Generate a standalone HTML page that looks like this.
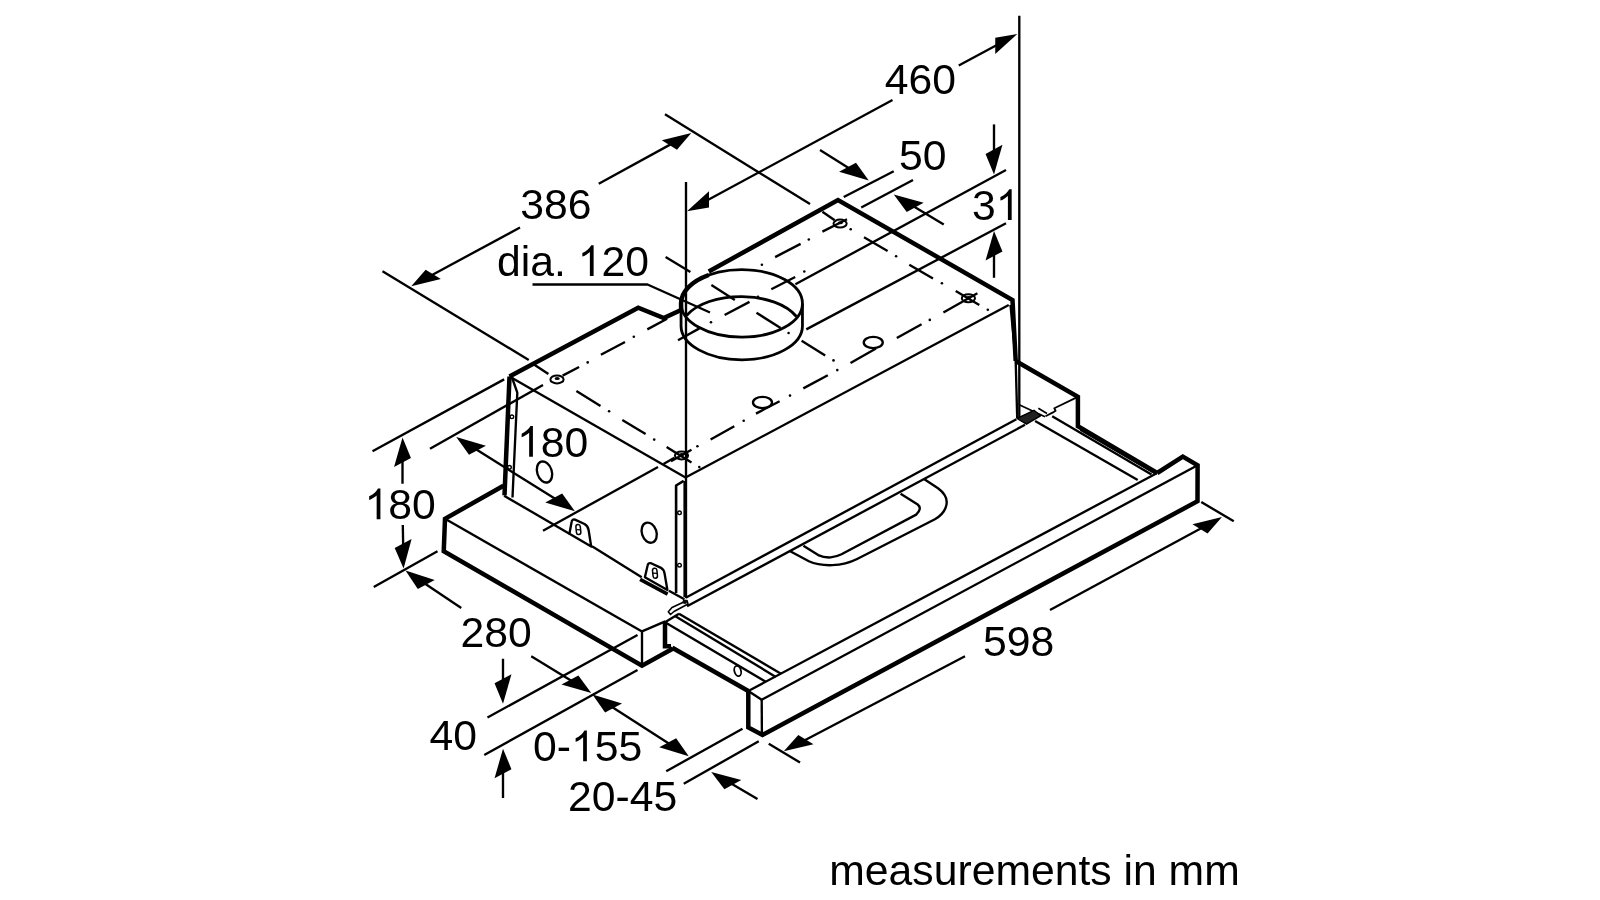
<!DOCTYPE html>
<html><head><meta charset="utf-8"><title>dimension drawing</title>
<style>html,body{margin:0;padding:0;background:#fff;}svg{display:block}
text{font-family:"Liberation Sans",sans-serif;font-size:42.7px;fill:#000;stroke:none}</style></head>
<body><svg width="1600" height="900" viewBox="0 0 1600 900" fill="none" stroke="#000" stroke-linecap="butt" stroke-linejoin="round">
<defs><filter id="soft" x="0" y="0" width="1600" height="900" filterUnits="userSpaceOnUse"><feGaussianBlur stdDeviation="0.45"/></filter></defs>
<rect width="1600" height="900" fill="#fff" stroke="none"/>
<g filter="url(#soft)">
<path d="M1019.30 15.75 L1019.30 418.00" stroke-width="2.35" />
<path d="M686.00 182.00 L686.00 598.00" stroke-width="2.35" />
<path d="M892.50 100.00 L704.59 201.78" stroke-width="2.35" />
<path d="M687.00 211.30 L708.98 207.59 L708.98 191.19 Z" fill="#000" stroke="none"/>
<path d="M958.75 65.50 L999.69 43.48" stroke-width="2.35" />
<path d="M1017.30 34.00 L995.28 54.04 L995.28 37.64 Z" fill="#000" stroke="none"/>
<path d="M665.00 114.30 L810.00 204.00" stroke-width="2.35" />
<path d="M382.50 271.25 L528.75 360.00" stroke-width="2.35" />
<path d="M534.40 364.70 L548.40 374.00" stroke-width="2.35" />
<path d="M598.75 183.75 L673.76 142.62" stroke-width="2.35" />
<path d="M691.30 133.00 L676.96 149.68 L661.80 140.36 Z" fill="#000" stroke="none"/>
<path d="M520.00 227.50 L428.85 276.74" stroke-width="2.35" />
<path d="M411.25 286.25 L440.83 279.03 L425.66 269.70 Z" fill="#000" stroke="none"/>
<path d="M843.75 197.00 L893.75 171.25" stroke-width="2.35" />
<path d="M861.25 207.50 L913.00 180.00" stroke-width="2.35" />
<path d="M820.00 150.00 L851.79 169.89" stroke-width="2.35" />
<path d="M868.75 180.50 L856.00 162.68 L839.11 171.80 Z" fill="#000" stroke="none"/>
<path d="M943.75 224.50 L910.90 204.79" stroke-width="2.35" />
<path d="M893.75 194.50 L923.64 202.80 L906.74 211.92 Z" fill="#000" stroke="none"/>
<path d="M795.40 284.30 L1006.00 170.00" stroke-width="2.35" />
<path d="M806.30 329.40 L1006.00 223.30" stroke-width="2.35" />
<path d="M994.00 124.40 L994.00 154.40" stroke-width="2.35" />
<path d="M994.00 174.40 L1002.45 144.84 L985.55 153.96 Z" fill="#000" stroke="none"/>
<path d="M994.00 277.80 L994.00 251.00" stroke-width="2.35" />
<path d="M994.00 231.00 L1002.45 251.44 L985.55 260.56 Z" fill="#000" stroke="none"/>
<path d="M532.50 284.50 L647.50 284.50 L710.00 312.50" stroke-width="2.35" />
<path d="M372.50 451.25 L504.10 379.40" stroke-width="2.35" />
<path d="M373.75 587.00 L437.50 551.25" stroke-width="2.35" />
<path d="M402.50 483.75 L402.50 457.50" stroke-width="2.35" />
<path d="M402.50 437.50 L410.95 457.94 L394.05 467.06 Z" fill="#000" stroke="none"/>
<path d="M402.80 525.00 L403.23 548.50" stroke-width="2.35" />
<path d="M403.60 568.50 L411.59 538.94 L394.69 548.06 Z" fill="#000" stroke="none"/>
<path d="M430.00 448.75 L543.00 384.90" stroke-width="2.35" />
<path d="M543.00 530.70 L658.00 467.00" stroke-width="2.35" />
<path d="M663.50 463.90 L674.40 457.70" stroke-width="2.35" />
<path d="M473.21 447.60 L557.94 500.60" stroke-width="2.35" />
<path d="M456.25 437.00 L485.89 445.70 L469.00 454.82 Z" fill="#000" stroke="none"/>
<path d="M574.90 511.20 L562.15 493.38 L545.26 502.50 Z" fill="#000" stroke="none"/>
<path d="M461.25 608.00 L422.11 581.74" stroke-width="2.35" />
<path d="M405.50 570.60 L434.71 579.97 L417.81 589.09 Z" fill="#000" stroke="none"/>
<path d="M531.25 656.25 L574.19 682.55" stroke-width="2.35" />
<path d="M591.25 693.00 L578.38 675.38 L561.48 684.50 Z" fill="#000" stroke="none"/>
<path d="M609.33 705.30 L671.92 745.45" stroke-width="2.35" />
<path d="M592.50 694.50 L621.99 703.44 L605.09 712.56 Z" fill="#000" stroke="none"/>
<path d="M688.75 756.25 L676.16 738.19 L659.26 747.31 Z" fill="#000" stroke="none"/>
<path d="M487.50 717.50 L637.50 635.00" stroke-width="2.35" />
<path d="M484.25 755.00 L637.50 670.00" stroke-width="2.35" />
<path d="M503.00 658.75 L503.00 683.75" stroke-width="2.35" />
<path d="M503.00 703.75 L511.45 674.19 L494.55 683.31 Z" fill="#000" stroke="none"/>
<path d="M503.00 798.00 L503.00 768.75" stroke-width="2.35" />
<path d="M503.00 748.75 L511.45 769.19 L494.55 778.31 Z" fill="#000" stroke="none"/>
<path d="M666.25 771.25 L742.50 728.75" stroke-width="2.35" />
<path d="M683.75 783.75 L758.75 741.25" stroke-width="2.35" />
<path d="M757.50 799.00 L728.52 782.08" stroke-width="2.35" />
<path d="M711.25 772.00 L741.29 780.04 L724.39 789.16 Z" fill="#000" stroke="none"/>
<path d="M768.75 743.75 L800.00 762.50" stroke-width="2.35" />
<path d="M1201.25 502.00 L1233.75 521.25" stroke-width="2.35" />
<path d="M965.00 656.25 L801.46 741.97" stroke-width="2.35" />
<path d="M783.75 751.25 L813.48 744.31 L798.31 734.98 Z" fill="#000" stroke="none"/>
<path d="M1050.00 610.00 L1204.41 526.51" stroke-width="2.35" />
<path d="M1222.00 517.00 L1207.59 533.55 L1192.43 524.23 Z" fill="#000" stroke="none"/>
<text x="884.80" y="94.00" font-size="42.7">460</text>
<text x="899.00" y="170.00" font-size="42.7">50</text>
<text x="972.00" y="220.00" font-size="42.7">3</text>
<path d="M763 0H583V1147Q518 1085 412.5 1023T223 930V1104Q374 1175 487 1276T647 1472H763Z" transform="translate(995.75 220.00) scale(0.02085 -0.02085)" fill="#000" stroke="none"/>
<text x="520.30" y="219.00" font-size="42.7">386</text>
<text x="497.00" y="276.00" font-size="42.7">dia. </text>
<path d="M763 0H583V1147Q518 1085 412.5 1023T223 930V1104Q374 1175 487 1276T647 1472H763Z" transform="translate(577.71 276.00) scale(0.02085 -0.02085)" fill="#000" stroke="none"/>
<text x="601.46" y="276.00" font-size="42.7">20</text>
<path d="M763 0H583V1147Q518 1085 412.5 1023T223 930V1104Q374 1175 487 1276T647 1472H763Z" transform="translate(517.00 456.70) scale(0.02085 -0.02085)" fill="#000" stroke="none"/>
<text x="540.75" y="456.70" font-size="42.7">80</text>
<path d="M763 0H583V1147Q518 1085 412.5 1023T223 930V1104Q374 1175 487 1276T647 1472H763Z" transform="translate(364.50 519.30) scale(0.02085 -0.02085)" fill="#000" stroke="none"/>
<text x="388.25" y="519.30" font-size="42.7">80</text>
<text x="460.50" y="647.00" font-size="42.7">280</text>
<text x="429.50" y="750.00" font-size="42.7">40</text>
<text x="533.00" y="761.25" font-size="42.7">0-</text>
<path d="M763 0H583V1147Q518 1085 412.5 1023T223 930V1104Q374 1175 487 1276T647 1472H763Z" transform="translate(570.97 761.25) scale(0.02085 -0.02085)" fill="#000" stroke="none"/>
<text x="594.71" y="761.25" font-size="42.7">55</text>
<text x="568.00" y="811.25" font-size="42.7">20-45</text>
<text x="983.00" y="656.25" font-size="42.7">598</text>
<text x="829.30" y="885.40" font-size="42.5">measurements in mm</text>
<path d="M509.50 376.50 L638.20 307.70 L663.80 318.10 L680.50 310.30" stroke-width="4.5" stroke-linejoin="miter"/>
<path d="M708.75 271.50 L838.00 200.00 L1012.50 300.00 L1015.70 361.00" stroke-width="4.5" stroke-linejoin="miter"/>
<path d="M509.50 376.50 L685.50 477.50" stroke-width="2.35" />
<path d="M685.50 477.50 L1008.75 305.00" stroke-width="2.35" />
<path d="M509.50 376.50 L504.50 495.30" stroke-width="4.5" />
<path d="M512.00 377.50 L517.30 392.70 L512.50 497.50" stroke-width="2.35" />
<path d="M1010.50 305.00 L1015.70 361.00" stroke-width="2.35" />
<path d="M1015.70 361.00 L1017.20 418.00" stroke-width="2.35" />
<ellipse cx="741.75" cy="303.4" rx="60.7" ry="33.8" stroke-width="2.8"/>
<path d="M708.75 275.0 A60.7 33.8 0 0 0 681.05 303.40 L681.2 312" stroke-width="4.5" />
<path d="M686.5 315.5 A60.7 33.8 0 0 1 796.4 316.5" stroke-width="2.8" />
<path d="M681.05 303.40 L681.05 326 A60.7 33.8 0 0 0 802.45 326 L802.45 303.40" stroke-width="2.8" />
<ellipse cx="840.1" cy="223.6" rx="6.6" ry="4.0" stroke-width="2.0"/>
<ellipse cx="840.3000000000001" cy="222.7" rx="2.6" ry="1.5" fill="#000" stroke="none"/>
<ellipse cx="968.4" cy="298.3" rx="6.6" ry="4.0" stroke-width="2.0"/>
<ellipse cx="968.6" cy="297.40000000000003" rx="2.6" ry="1.5" fill="#000" stroke="none"/>
<ellipse cx="557" cy="379.4" rx="6.6" ry="4.0" stroke-width="2.0"/>
<ellipse cx="557.2" cy="378.5" rx="2.6" ry="1.5" fill="#000" stroke="none"/>
<ellipse cx="681.5" cy="455.4" rx="6.6" ry="4.0" stroke-width="2.0"/>
<ellipse cx="681.7" cy="454.5" rx="2.6" ry="1.5" fill="#000" stroke="none"/>
<ellipse cx="873.25" cy="342.5" rx="9.5" ry="5.6" stroke-width="2.35"/>
<ellipse cx="762.5" cy="402.5" rx="9.5" ry="5.6" stroke-width="2.35"/>
<path d="M665.60 257.10 L690.40 271.90" stroke-width="2.35" />
<path d="M711.40 285.10 L734.80 299.90" stroke-width="2.35" />
<path d="M756.50 312.80 L780.60 327.90" stroke-width="2.35" />
<path d="M801.60 340.80 L825.20 355.60" stroke-width="2.35" />
<circle cx="788.60" cy="333.00" r="1.3" fill="#000" stroke="none"/>
<circle cx="833.50" cy="360.40" r="1.3" fill="#000" stroke="none"/>
<circle cx="699.30" cy="467.10" r="1.3" fill="#000" stroke="none"/>
<path d="M678.00 340.30 L699.40 328.40" stroke-width="2.35" />
<path d="M724.60 315.00 L749.50 301.90" stroke-width="2.35" />
<path d="M771.30 289.30 L795.20 277.00" stroke-width="2.35" />
<circle cx="711.00" cy="322.20" r="1.3" fill="#000" stroke="none"/>
<circle cx="758.00" cy="296.80" r="1.3" fill="#000" stroke="none"/>
<circle cx="804.30" cy="271.50" r="1.3" fill="#000" stroke="none"/>
<path d="M562.60 375.60 L579.10 367.00" stroke-width="2.35" />
<path d="M775.10 257.10 L800.60 243.90" stroke-width="2.35" />
<path d="M822.40 231.60 L847.00 219.30" stroke-width="2.35" />
<circle cx="587.70" cy="362.40" r="1.3" fill="#000" stroke="none"/>
<circle cx="761.90" cy="264.70" r="1.3" fill="#000" stroke="none"/>
<circle cx="808.80" cy="239.50" r="1.3" fill="#000" stroke="none"/>
<path d="M600.90 354.80 L625.00 342.00" stroke-width="2.35" />
<path d="M647.30 329.40 L667.10 318.70" stroke-width="2.35" />
<circle cx="633.80" cy="336.70" r="1.3" fill="#000" stroke="none"/>
<path d="M822.40 211.70 L834.70 220.20" stroke-width="2.35" />
<path d="M864.00 237.30 L887.60 250.90" stroke-width="2.35" />
<path d="M909.30 264.70 L933.00 278.50" stroke-width="2.35" />
<path d="M955.70 291.10 L979.30 304.90" stroke-width="2.35" />
<circle cx="850.70" cy="229.30" r="1.3" fill="#000" stroke="none"/>
<circle cx="896.10" cy="256.20" r="1.3" fill="#000" stroke="none"/>
<circle cx="941.90" cy="283.20" r="1.3" fill="#000" stroke="none"/>
<circle cx="987.80" cy="309.70" r="1.3" fill="#000" stroke="none"/>
<path d="M977.40 293.20 L943.40 312.50" stroke-width="2.35" />
<path d="M921.60 324.20 L896.80 338.00" stroke-width="2.35" />
<path d="M876.00 348.40 L850.50 363.10" stroke-width="2.35" />
<path d="M827.80 375.20 L803.30 388.40" stroke-width="2.35" />
<path d="M779.60 401.30 L756.00 413.60" stroke-width="2.35" />
<path d="M734.30 426.20 L710.60 439.50" stroke-width="2.35" />
<path d="M691.50 449.80 L671.00 461.30" stroke-width="2.35" />
<circle cx="929.80" cy="319.90" r="1.3" fill="#000" stroke="none"/>
<circle cx="837.30" cy="370.10" r="1.3" fill="#000" stroke="none"/>
<circle cx="790.00" cy="395.60" r="1.3" fill="#000" stroke="none"/>
<circle cx="743.70" cy="420.80" r="1.3" fill="#000" stroke="none"/>
<circle cx="697.40" cy="446.30" r="1.3" fill="#000" stroke="none"/>
<path d="M576.40 391.10 L600.50 405.90" stroke-width="2.35" />
<path d="M622.30 419.90 L645.60 433.90" stroke-width="2.35" />
<path d="M666.60 447.10 L691.50 462.60" stroke-width="2.35" />
<circle cx="609.10" cy="411.30" r="1.3" fill="#000" stroke="none"/>
<circle cx="654.20" cy="439.60" r="1.3" fill="#000" stroke="none"/>
<ellipse cx="544.5" cy="472" rx="7.3" ry="10.8" transform="rotate(-18 544.5 472)" stroke-width="2.35"/>
<ellipse cx="649.2" cy="532.7" rx="7.3" ry="10.3" transform="rotate(-18 649.2 532.7)" stroke-width="2.35"/>
<circle cx="511.9" cy="416.8" r="1.8" stroke-width="1.4"/>
<circle cx="509.5" cy="467.3" r="1.8" stroke-width="1.4"/>
<path d="M504.10 495.70 L569.40 533.80" stroke-width="2.35" />
<path d="M592.00 546.20 L641.70 577.30" stroke-width="2.35" />
<path d="M668.90 590.80 L684.40 599.30" stroke-width="2.35" />
<path d="M569.4 533.8 L571.6 522 Q572 519 575 519.6 L584.5 524 Q588 526 588.6 530 L591.2 546.6 L569.4 533.8 Z" stroke-width="2.35" />
<rect x="576.2" y="524.6" width="4.4" height="10" rx="2.2" stroke-width="1.5" transform="rotate(-6 578.3 529.9)"/>
<path d="M576.40 529.60 L580.40 529.90" stroke-width="1.3" />
<path d="M644.9 577.3 L647.6 565.5 Q648 562.6 651 563.2 L660.5 567.6 Q664 569.6 664.6 573.6 L667.4 590 L644.9 577.3 Z" stroke-width="2.35" />
<rect x="652.8" y="568.2" width="4.4" height="10" rx="2.2" stroke-width="1.5" transform="rotate(-6 655 573.4)"/>
<path d="M653.00 573.10 L657.00 573.40" stroke-width="1.3" />
<path d="M640.10 579.30 L667.60 594.10" stroke-width="3.6" />
<path d="M683.70 480.90 L676.10 485.50 L676.10 593.00" stroke-width="2.6" />
<path d="M684.20 481.00 L684.20 597.00" stroke-width="1.6" />
<circle cx="679.5" cy="512.8" r="1.8" stroke-width="1.4"/>
<circle cx="679.5" cy="565.2" r="1.8" stroke-width="1.4"/>
<path d="M503.50 485.80 L445.00 518.75 L443.75 551.25 L642.00 665.60 L673.10 648.50" stroke-width="4.5" stroke-linejoin="miter"/>
<path d="M445.00 518.75 L642.00 631.40" stroke-width="2.35" />
<path d="M642.00 631.40 L642.00 665.60" stroke-width="2.35" />
<path d="M642.00 631.40 L665.30 621.30" stroke-width="2.35" />
<path d="M685.70 597.80 L1016.40 419.30" stroke-width="2.35" />
<path d="M687.00 606.30 L1025.00 424.80" stroke-width="2.35" />
<path d="M668.3 611.7 L672 607.5 L687 600.5 L688 604 L674 611.5 L670.5 614.5 Z" stroke-width="1.6" />
<circle cx="684.8" cy="601.8" r="2.3" fill="#111" stroke="none"/>
<path d="M665.00 622.30 L665.00 646.30 L671.00 646.30" stroke-width="4.5" stroke-linejoin="miter"/>
<path d="M672.30 647.70 L748.30 691.00" stroke-width="4.5" />
<path d="M679.00 613.70 L781.00 673.70" stroke-width="2.35" />
<path d="M675.40 616.20 L775.80 676.90" stroke-width="2.35" />
<path d="M665.00 622.30 L765.70 681.70" stroke-width="2.35" />
<path d="M665.00 622.30 L679.00 613.70" stroke-width="2.35" />
<ellipse cx="737.7" cy="671" rx="3.3" ry="5.2" transform="rotate(-15 737.7 671)" stroke-width="1.8"/>
<path d="M748.30 691.00 L748.30 727.50 L762.50 735.00 L1197.50 501.25 L1197.60 465.20 L1182.80 456.60 L1157.20 473.00" stroke-width="4.5" stroke-linejoin="miter"/>
<path d="M748.30 691.00 L761.70 699.70" stroke-width="2.35" />
<path d="M761.70 699.70 L761.90 734.00" stroke-width="2.35" />
<path d="M761.70 699.70 L1197.60 465.20" stroke-width="2.35" />
<path d="M748.30 691.00 L1157.20 473.00" stroke-width="2.35" />
<path d="M1015.70 361.00 L1077.90 396.80 L1077.90 426.30 L1157.20 473.00" stroke-width="4.5" stroke-linejoin="miter"/>
<path d="M1080.20 430.20 L1154.80 473.70" stroke-width="1.5" />
<path d="M1052.20 416.20 L1151.50 474.60" stroke-width="2.35" />
<path d="M1035.10 420.90 L1137.70 480.00" stroke-width="2.35" />
<path d="M1076.3 397.6 L1054.3 408.3 L1055.6 410.7 L1053 412.4 L1045.5 416.2" stroke-width="1.8" />
<path d="M1019.70 405.00 L1045.00 416.70" stroke-width="1.8" />
<path d="M1017 418.5 L1034 410.3 L1040.5 415.8 L1026.5 424.2 Z" stroke-width="1.4" fill="#222"/>
<path d="M1038.30 408.30 L1047.00 413.50" stroke-width="1.6" />
<path d="M924 478.9 L938 488.2 Q950 497 945.5 508 Q943 514.5 934.9 519.3 L857.1 559 Q846 564.6 832.2 565.2 Q818 565.6 808.9 561.3 L790.2 551.2" stroke-width="2.35" />
<path d="M900.6 493.7 L917.7 504.5 Q922.5 508.5 916.2 514.6 L841.5 554.3 Q836 557 830.7 557.4 Q824 557.8 818.2 555.1 L803.4 545.8" stroke-width="2.35" />
</g>
</svg></body></html>
